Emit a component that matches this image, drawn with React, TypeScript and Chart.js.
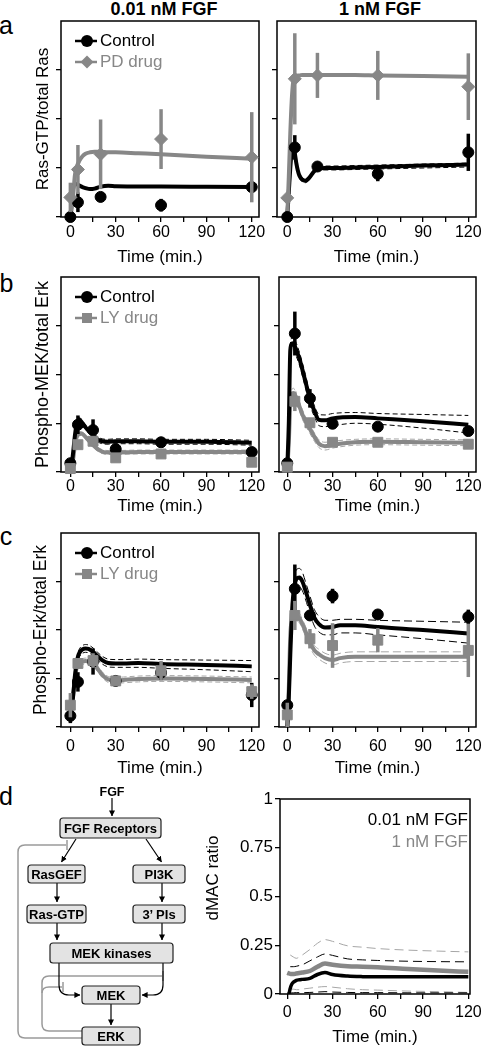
import React, { useEffect, useRef } from 'react';
import { Chart, registerables } from 'chart.js';

Chart.register(...registerables);

const FONT = "Arial, 'Liberation Sans', Helvetica, sans-serif";
const BLACK = '#000000';
const GRAY = '#878787';
const LGRAY = '#a6a6a6';

// ---------- shared ticks ----------
const X_TICKS = [0, 15, 30, 45, 60, 75, 90, 105, 120];
const X_LABELS = [0, 30, 60, 90, 120];
const Y_TICKS_ABC = [0, 1, 2, 3];
const Y_TICKS_D = [0, 0.25, 0.5, 0.75, 1];

// ---------- panel a: Ras-GTP / total Ras ----------
const tA = [0, 5, 20, 60, 120];
const aL_ctrl = [0, 0.3, 0.41, 0.24, 0.61];
const aL_ctrlErr = [0.03, 0.2, 0.05, 0.13, 0.1];
const aL_pd = [0.4, 0.97, 1.28, 1.59, 1.22];
const aL_pdErr = [0.3, 0.5, 0.71, 0.61, 0.92];
const aR_ctrl = [0, 1.42, 1.03, 0.88, 1.32];
const aR_ctrlErr = [0.03, 0.25, 0.08, 0.15, 0.38];
const aR_pd = [0.39, 2.82, 2.89, 2.89, 2.66];
const aR_pdErr = [0, 0.93, 0.46, 0.5, 0.68];

const mAL = [0, 1, 2, 3, 4, 6, 8, 10, 13, 16, 20, 25, 30, 45, 60, 90, 120];
const aL_ctrlFit = [0, 0.35, 0.62, 0.68, 0.67, 0.64, 0.61, 0.59, 0.57, 0.58, 0.62, 0.64, 0.63, 0.62, 0.62, 0.615, 0.61];
const aL_pdFit = [0, 0.2, 0.5, 0.85, 1.0, 1.15, 1.24, 1.29, 1.32, 1.33, 1.33, 1.32, 1.32, 1.3, 1.28, 1.23, 1.19];

const mAR = [0, 1, 2, 3, 4, 5, 6, 7, 8, 10, 12, 14, 17, 20, 25, 30, 45, 60, 90, 120];
const aR_ctrlFit = [0, 0.5, 1.0, 1.35, 1.42, 1.3, 1.1, 0.95, 0.85, 0.76, 0.74, 0.78, 0.9, 0.99, 1.0, 1.0, 1.01, 1.02, 1.05, 1.07];
const aR_ctrlHi = [0, 0.55, 1.05, 1.4, 1.47, 1.36, 1.16, 1.0, 0.9, 0.8, 0.78, 0.82, 0.94, 1.03, 1.04, 1.04, 1.05, 1.06, 1.08, 1.1];
const aR_ctrlLo = [0, 0.45, 0.95, 1.3, 1.37, 1.24, 1.04, 0.9, 0.8, 0.72, 0.7, 0.74, 0.86, 0.95, 0.96, 0.96, 0.97, 0.98, 1.0, 1.02];
const aR_pdFit = [0, 0.8, 1.7, 2.4, 2.78, 2.86, 2.88, 2.89, 2.89, 2.9, 2.9, 2.9, 2.9, 2.9, 2.9, 2.9, 2.9, 2.89, 2.88, 2.86];

// ---------- panel b: Phospho-MEK / total Erk ----------
const tB = [0, 5, 15, 30, 60, 120];
const bL_ctrl = [0.18, 0.97, 0.86, 0.47, 0.61, 0.41];
const bL_ctrlErr = [0.03, 0.19, 0.22, 0.08, 0.1, 0.06];
const bL_ly = [0.07, 0.56, 0.63, 0.29, 0.37, 0.2];
const bL_lyErr = [0.02, 0.06, 0.1, 0.05, 0.04, 0.05];
const bR_ctrl = [0.18, 2.84, 1.51, 0.99, 0.93, 0.84];
const bR_ctrlErr = [0.03, 0.45, 0.19, 0.06, 0.06, 0.06];
const bR_ly = [0.1, 1.45, 1.01, 0.61, 0.61, 0.57];
const bR_lyErr = [0.03, 0.2, 0.1, 0.06, 0.05, 0.06];

const mB = [0, 1, 2, 3, 4, 5, 6, 8, 10, 12, 15, 18, 21, 25, 30, 45, 60, 90, 120];
const bL_ctrlFit = [0.12, 0.2, 0.45, 0.75, 0.95, 1.05, 1.07, 1.0, 0.92, 0.85, 0.75, 0.67, 0.63, 0.62, 0.63, 0.63, 0.62, 0.62, 0.6];
const bL_ctrlHi = [0.12, 0.22, 0.5, 0.8, 1.0, 1.1, 1.12, 1.05, 0.97, 0.9, 0.8, 0.72, 0.68, 0.67, 0.68, 0.68, 0.67, 0.67, 0.65];
const bL_ctrlLo = [0.12, 0.18, 0.4, 0.7, 0.9, 1.0, 1.02, 0.95, 0.87, 0.8, 0.7, 0.62, 0.58, 0.57, 0.58, 0.58, 0.57, 0.57, 0.55];
const bL_lyFit = [0.06, 0.12, 0.3, 0.55, 0.7, 0.76, 0.79, 0.78, 0.72, 0.65, 0.55, 0.47, 0.42, 0.4, 0.4, 0.41, 0.41, 0.41, 0.41];
const bL_lyHi = [0.06, 0.14, 0.33, 0.59, 0.74, 0.8, 0.83, 0.82, 0.76, 0.69, 0.59, 0.51, 0.46, 0.44, 0.44, 0.45, 0.45, 0.45, 0.45];
const bL_lyLo = [0.06, 0.1, 0.27, 0.51, 0.66, 0.72, 0.75, 0.74, 0.68, 0.61, 0.51, 0.43, 0.38, 0.36, 0.36, 0.37, 0.37, 0.37, 0.37];
const bR_ctrlFit = [0.1, 1.0, 2.5, 2.63, 2.64, 2.58, 2.5, 2.33, 2.1, 1.86, 1.5, 1.25, 1.07, 1.06, 1.1, 1.13, 1.1, 1.04, 0.97];
const bR_ctrlHi = [0.1, 1.1, 2.6, 2.75, 2.78, 2.72, 2.64, 2.46, 2.24, 2.0, 1.62, 1.36, 1.18, 1.17, 1.2, 1.22, 1.2, 1.18, 1.16];
const bR_ctrlLo = [0.1, 0.9, 2.4, 2.52, 2.52, 2.45, 2.37, 2.2, 1.97, 1.73, 1.38, 1.13, 0.95, 0.93, 0.95, 1.0, 0.98, 0.9, 0.8];
const bR_lyFit = [0.05, 0.6, 1.4, 1.6, 1.62, 1.58, 1.5, 1.35, 1.18, 1.05, 0.88, 0.72, 0.58, 0.53, 0.56, 0.61, 0.62, 0.61, 0.6];
const bR_lyHi = [0.05, 0.66, 1.48, 1.68, 1.72, 1.68, 1.6, 1.45, 1.28, 1.14, 0.97, 0.8, 0.66, 0.61, 0.63, 0.67, 0.68, 0.67, 0.66];
const bR_lyLo = [0.05, 0.54, 1.32, 1.52, 1.52, 1.48, 1.4, 1.25, 1.08, 0.96, 0.79, 0.63, 0.5, 0.45, 0.49, 0.55, 0.56, 0.55, 0.54];

// ---------- panel c: Phospho-Erk / total Erk ----------
const tC = [0, 5, 15, 30, 60, 120];
const cL_ctrl = [0.23, 0.93, 1.35, 0.95, 1.12, 0.66];
const cL_ctrlErr = [0.15, 0.2, 0.27, 0.1, 0.15, 0.25];
const cL_ly = [0.45, 1.31, 1.37, 0.95, 1.16, 0.73];
const cL_lyErr = [0.25, 0.1, 0.15, 0.1, 0.2, 0.15];
const cR_ctrl = [0.45, 2.85, 2.3, 2.7, 2.32, 2.27];
const cR_ctrlErr = [0.1, 0.5, 0.1, 0.15, 0.08, 0.15];
const cR_ly = [0.25, 2.3, 1.82, 1.68, 1.79, 1.58];
const cR_lyErr = [0.25, 0.3, 0.2, 0.46, 0.25, 0.55];

const mC = [0, 1, 2, 3, 4, 5, 6, 8, 10, 12, 15, 18, 21, 25, 30, 35, 45, 60, 90, 120];
const cL_ctrlFit = [0.25, 0.4, 0.7, 1.05, 1.3, 1.45, 1.53, 1.6, 1.62, 1.61, 1.55, 1.46, 1.38, 1.32, 1.31, 1.31, 1.32, 1.3, 1.28, 1.25];
const cL_ctrlHi = [0.25, 0.45, 0.78, 1.13, 1.38, 1.53, 1.61, 1.68, 1.7, 1.69, 1.63, 1.54, 1.46, 1.4, 1.39, 1.39, 1.4, 1.39, 1.38, 1.37];
const cL_ctrlLo = [0.25, 0.35, 0.62, 0.97, 1.22, 1.37, 1.45, 1.52, 1.54, 1.53, 1.47, 1.38, 1.3, 1.24, 1.23, 1.23, 1.23, 1.21, 1.18, 1.14];
const cL_lyFit = [0.3, 0.45, 0.7, 1.0, 1.2, 1.28, 1.32, 1.35, 1.36, 1.35, 1.32, 1.2, 1.08, 0.98, 0.96, 0.97, 0.99, 1.0, 0.99, 0.97];
const cL_lyHi = [0.3, 0.5, 0.76, 1.06, 1.26, 1.34, 1.38, 1.41, 1.42, 1.41, 1.38, 1.26, 1.14, 1.04, 1.02, 1.03, 1.05, 1.06, 1.05, 1.03];
const cL_lyLo = [0.3, 0.4, 0.64, 0.94, 1.14, 1.22, 1.26, 1.29, 1.3, 1.29, 1.26, 1.14, 1.02, 0.92, 0.9, 0.91, 0.93, 0.94, 0.93, 0.91];
const cR_ctrlFit = [0.0, 0.6, 1.5, 2.3, 2.75, 2.95, 3.05, 3.08, 3.0, 2.82, 2.52, 2.25, 2.12, 2.05, 2.06, 2.1, 2.1, 2.06, 2.0, 1.93];
const cR_ctrlHi = [0.0, 0.7, 1.65, 2.45, 2.92, 3.13, 3.24, 3.27, 3.19, 3.0, 2.7, 2.42, 2.28, 2.2, 2.2, 2.22, 2.22, 2.2, 2.18, 2.16];
const cR_ctrlLo = [0.0, 0.5, 1.35, 2.15, 2.58, 2.77, 2.86, 2.89, 2.81, 2.64, 2.34, 2.08, 1.96, 1.9, 1.9, 1.94, 1.94, 1.9, 1.82, 1.73];
const cR_lyFit = [0.0, 0.8, 1.9, 2.2, 2.27, 2.29, 2.29, 2.25, 2.12, 1.98, 1.75, 1.58, 1.5, 1.42, 1.38, 1.42, 1.45, 1.45, 1.45, 1.45];
const cR_lyHi = [0.0, 0.88, 2.0, 2.3, 2.37, 2.39, 2.39, 2.35, 2.22, 2.08, 1.85, 1.68, 1.6, 1.52, 1.48, 1.52, 1.55, 1.55, 1.55, 1.55];
const cR_lyLo = [0.0, 0.72, 1.8, 2.1, 2.17, 2.19, 2.19, 2.15, 2.02, 1.88, 1.65, 1.48, 1.4, 1.32, 1.28, 1.32, 1.35, 1.35, 1.35, 1.35];

// ---------- panel d: dMAC ratio ----------
const mD = [0, 1, 2, 3, 4, 5, 6, 8, 10, 15, 20, 25, 30, 40, 50, 60, 80, 100, 120];
const dLowFit = [0, 0, 0.03, 0.05, 0.06, 0.065, 0.07, 0.073, 0.075, 0.08, 0.1, 0.11, 0.1, 0.092, 0.089, 0.088, 0.088, 0.088, 0.088];
const dHighFit = [0.109, 0.106, 0.103, 0.102, 0.102, 0.103, 0.105, 0.108, 0.11, 0.118, 0.14, 0.156, 0.15, 0.142, 0.14, 0.137, 0.128, 0.12, 0.114];
const mDb = [2, 4, 6, 8, 10, 15, 20, 25, 30, 40, 50, 60, 80, 100, 120];
const dLowHi = [0.14, 0.14, 0.142, 0.146, 0.15, 0.17, 0.19, 0.205, 0.198, 0.18, 0.175, 0.172, 0.168, 0.166, 0.165];
const dLowLo = [0.005, 0.006, 0.007, 0.007, 0.007, 0.008, 0.01, 0.012, 0.01, 0.008, 0.007, 0.007, 0.006, 0.006, 0.006];
const dHighHi = [0.2, 0.19, 0.183, 0.19, 0.2, 0.228, 0.26, 0.279, 0.27, 0.247, 0.24, 0.233, 0.225, 0.22, 0.216];
const dHighLo = [0.025, 0.025, 0.022, 0.022, 0.025, 0.03, 0.035, 0.038, 0.035, 0.027, 0.022, 0.02, 0.015, 0.012, 0.008];

// ---------- diagram nodes ----------
const NODES = [
  { label: 'FGF Receptors', x: 60, y: 818, w: 101, h: 20 },
  { label: 'RasGEF', x: 28, y: 865, w: 57, h: 18 },
  { label: 'PI3K', x: 133, y: 865, w: 52, h: 18 },
  { label: 'Ras-GTP', x: 27, y: 905, w: 59, h: 18 },
  { label: '3\u2019 PIs', x: 133, y: 905, w: 52, h: 18 },
  { label: 'MEK kinases', x: 50, y: 943, w: 123, h: 20 },
  { label: 'MEK', x: 82, y: 986, w: 58, h: 18 },
  { label: 'ERK', x: 82, y: 1027, w: 58, h: 18 },
];
const ARROWS = [
  'M112 798 V816',
  'M76 839 L61.5 862',
  'M146 839 L161.5 862',
  'M57 883 V902',
  'M162 883 V902',
  'M57 923 V940',
  'M162 923 V940',
  'M59 963 V985 Q59 995 69 995 H80',
  'M163 963 V985 Q163 995 153 995 H142',
  'M111 1004 V1025',
];
const FEEDBACK = [
  'M82 1038 H25 Q18 1038 18 1031 V852 Q18 845 25 845 H66',
  'M82 1031 H49 Q42 1031 42 1024 V983 Q42 976 49 976 H162',
  'M42 993 Q42 987 49 987 H62',
];
const TEES = ['M67 840 V850', 'M163 971 V981', 'M63 982 V992'];

// ---------- helpers ----------
const pts = (t: number[], v: number[]) => t.map((x, i) => ({ x, y: v[i] }));

function pointsDS(t: number[], v: number[], err: number[], color: string, style: string, radius: number, order: number) {
  return {
    type: 'line', data: pts(t, v), showLine: false, errors: err,
    pointStyle: style, pointRadius: radius, pointBackgroundColor: color, pointBorderColor: color,
    pointBorderWidth: 1, borderColor: color, backgroundColor: color, clip: false, order,
  };
}
function curveDS(t: number[], v: number[], color: string, width = 4) {
  return {
    type: 'line', data: pts(t, v), borderColor: color, borderWidth: width, pointRadius: 0,
    cubicInterpolationMode: 'monotone', fill: false, order: 2,
  };
}
function boundDS(t: number[], v: number[], color: string, dash = [5, 3]) {
  return {
    type: 'line', data: pts(t, v), borderColor: color, borderWidth: 1, borderDash: dash, pointRadius: 0,
    cubicInterpolationMode: 'monotone', fill: false, order: 3,
  };
}

function drawMarker(ctx: CanvasRenderingContext2D, style: string, x: number, y: number, color: string) {
  ctx.fillStyle = color;
  ctx.beginPath();
  if (style === 'circle') ctx.arc(x, y, 6, 0, Math.PI * 2);
  else if (style === 'diamond') {
    ctx.moveTo(x - 6.5, y); ctx.lineTo(x, y - 6.5); ctx.lineTo(x + 6.5, y); ctx.lineTo(x, y + 6.5); ctx.closePath();
  } else ctx.rect(x - 5, y - 5, 10, 10);
  ctx.fill();
}

const boxPlugin = {
  id: 'boxBorder',
  beforeDatasetsDraw(chart: any) {
    const { ctx, chartArea: ca } = chart;
    ctx.save();
    ctx.strokeStyle = '#000';
    ctx.lineWidth = 1.5;
    ctx.strokeRect(ca.left, ca.top, ca.right - ca.left, ca.bottom - ca.top);
    ctx.restore();
  },
};

const errorBarPlugin = {
  id: 'errorBars',
  beforeDatasetDraw(chart: any, args: any) {
    const ds = chart.data.datasets[args.index];
    if (!ds.errors) return;
    const { ctx, chartArea: ca } = chart;
    const xs = chart.scales.x;
    const ys = chart.scales.y;
    ctx.save();
    ctx.beginPath();
    ctx.rect(ca.left, ca.top, ca.right - ca.left, ca.bottom - ca.top);
    ctx.clip();
    ctx.strokeStyle = ds.borderColor;
    ctx.lineWidth = 3.5;
    ds.data.forEach((p: any, i: number) => {
      const e = ds.errors[i];
      if (!e) return;
      const px = xs.getPixelForValue(p.x);
      ctx.beginPath();
      ctx.moveTo(px, ys.getPixelForValue(p.y - e));
      ctx.lineTo(px, ys.getPixelForValue(p.y + e));
      ctx.stroke();
    });
    ctx.restore();
  },
};

function makeLegendPlugin(items: any[], align: string) {
  return {
    id: 'figLegend',
    afterDatasetsDraw(chart: any) {
      const { ctx, chartArea: ca } = chart;
      ctx.save();
      ctx.font = `17px ${FONT}`;
      ctx.textBaseline = 'middle';
      items.forEach((it, i) => {
        if (align === 'left') {
          const y = ca.top + [20, 41][i];
          ctx.strokeStyle = it.color;
          ctx.lineWidth = 2.5;
          ctx.beginPath(); ctx.moveTo(ca.left + 14, y); ctx.lineTo(ca.left + 36, y); ctx.stroke();
          drawMarker(ctx, it.style, ca.left + 26, y, it.color);
          ctx.fillStyle = it.color;
          ctx.textAlign = 'left';
          ctx.fillText(it.text, ca.left + 39, y);
        } else {
          const y = ca.top + [21, 43][i];
          ctx.fillStyle = it.color;
          ctx.textAlign = 'right';
          ctx.fillText(it.text, ca.right - 2, y);
        }
      });
      ctx.restore();
    },
  };
}

// rotated axis title placed at a given page position (used for the dMAC panel)
function makeSideTitlePlugin(text: string, px: number, py: number, cx: number, cy: number) {
  return {
    id: 'sideTitle',
    afterDraw(chart: any) {
      const { ctx } = chart;
      ctx.save();
      ctx.translate(px - cx, py - cy);
      ctx.rotate(-Math.PI / 2);
      ctx.font = `17px ${FONT}`;
      ctx.fillStyle = '#000';
      ctx.textAlign = 'center';
      ctx.textBaseline = 'middle';
      ctx.fillText(text, 0, 0);
      ctx.restore();
    },
  };
}

interface Spec {
  box: [number, number, number, number];
  cx: number; cy: number; cw: number;
  xMin: number; xMax: number; yMax: number;
  yTicks: number[]; yLabels: boolean;
  yTitle?: string; yTitleSize?: number; yTitleX?: number;
  sideTitle?: { text: string; x: number; y: number };
  labelOff: number; titleOff: number;
  datasets: any[];
  legend?: any[]; legendAlign?: string;
}

const canvasHeight = (s: Spec) => s.box[3] - s.cy + s.titleOff + 10.2;

function buildConfig(s: Spec): any {
  const [x0, y0, x1, y1] = s.box;
  const h = canvasHeight(s);
  const gridOpts = { display: true, drawOnChartArea: false, drawTicks: true, tickLength: 5, color: '#000', lineWidth: 1.3 };
  const plugins: any[] = [boxPlugin, errorBarPlugin];
  if (s.legend) plugins.push(makeLegendPlugin(s.legend, s.legendAlign || 'left'));
  if (s.sideTitle) plugins.push(makeSideTitlePlugin(s.sideTitle.text, s.sideTitle.x, s.sideTitle.y, s.cx, s.cy));
  return {
    type: 'line',
    data: { datasets: s.datasets },
    plugins,
    options: {
      animation: false,
      responsive: true,
      maintainAspectRatio: false,
      events: [],
      layout: { padding: { left: 0, top: y0 - s.cy, right: s.cx + s.cw - x1, bottom: 0 } },
      plugins: { legend: { display: false }, tooltip: { enabled: false }, title: { display: false } },
      scales: {
        x: {
          type: 'linear', min: s.xMin, max: s.xMax,
          afterFit: (sc: any) => { sc.height = h - (y1 - s.cy); },
          afterBuildTicks: (sc: any) => { sc.ticks = X_TICKS.map((v) => ({ value: v })); },
          grid: gridOpts,
          border: { display: false },
          ticks: {
            autoSkip: false, maxRotation: 0, minRotation: 0,
            padding: s.labelOff - 5 - 9.6,
            color: '#000', font: { family: FONT, size: 16 },
            callback: (v: any) => (X_LABELS.includes(Number(v)) ? String(v) : ''),
          },
          title: { display: true, text: 'Time (min.)', color: '#000', font: { family: FONT, size: 17 }, padding: { top: 0, bottom: 0 } },
        },
        y: {
          type: 'linear', min: 0, max: s.yMax,
          afterFit: (sc: any) => { sc.width = x0 - s.cx; },
          afterBuildTicks: (sc: any) => { sc.ticks = s.yTicks.map((v) => ({ value: v })); },
          grid: gridOpts,
          border: { display: false },
          ticks: {
            display: s.yLabels, padding: 2, color: '#000', font: { family: FONT, size: 17 },
            callback: (v: any) => String(v),
          },
          title: s.yTitle
            ? {
                display: true, text: s.yTitle, color: '#000',
                font: { family: FONT, size: s.yTitleSize || 17 },
                padding: { top: (s.yTitleX || 43) - ((s.yTitleSize || 17) * 1.2) / 2, bottom: 0 },
              }
            : { display: false },
        },
      },
    },
  };
}

function ChartBox({ spec }: { spec: Spec }) {
  const ref = useRef<HTMLCanvasElement | null>(null);
  useEffect(() => {
    const chart = new Chart(ref.current as HTMLCanvasElement, buildConfig(spec));
    return () => chart.destroy();
  }, []);
  return (
    <div style={{ position: 'absolute', left: spec.cx, top: spec.cy, width: spec.cw, height: canvasHeight(spec) }}>
      <canvas ref={ref} />
    </div>
  );
}

const legPD = [
  { text: 'Control', color: BLACK, style: 'circle' },
  { text: 'PD drug', color: GRAY, style: 'diamond' },
];
const legLY = [
  { text: 'Control', color: BLACK, style: 'circle' },
  { text: 'LY drug', color: GRAY, style: 'square' },
];

const LEFT = { cx: 0, cw: 275 };
const RIGHT = { cx: 268, cw: 230 };

const SPECS: Spec[] = [
  {
    ...LEFT, cy: 6, box: [61, 21, 259, 217], xMin: -6.2, xMax: 124.8, yMax: 4, yTicks: Y_TICKS_ABC, yLabels: false,
    yTitle: 'Ras-GTP/total Ras', yTitleSize: 17, yTitleX: 43, labelOff: 16, titleOff: 40,
    legend: legPD,
    datasets: [
      pointsDS(tA, aL_pd, aL_pdErr, GRAY, 'rectRot', 6.5, 0),
      pointsDS(tA, aL_ctrl, aL_ctrlErr, BLACK, 'circle', 5.5, 1),
      curveDS(mAL, aL_pdFit, GRAY),
      curveDS(mAL, aL_ctrlFit, BLACK),
    ],
  },
  {
    ...RIGHT, cy: 6, box: [277, 21, 476, 217], xMin: -6.8, xMax: 125.1, yMax: 4, yTicks: Y_TICKS_ABC, yLabels: false,
    labelOff: 16, titleOff: 40,
    datasets: [
      pointsDS(tA, aR_pd, aR_pdErr, GRAY, 'rectRot', 6.5, 0),
      pointsDS(tA, aR_ctrl, aR_ctrlErr, BLACK, 'circle', 5.5, 1),
      curveDS(mAR, aR_pdFit, GRAY),
      curveDS(mAR, aR_ctrlFit, BLACK),
      boundDS(mAR, aR_ctrlHi, BLACK),
      boundDS(mAR, aR_ctrlLo, BLACK),
    ],
  },
  {
    ...LEFT, cy: 262, box: [61, 277, 259, 472], xMin: -6.2, xMax: 124.8, yMax: 4, yTicks: Y_TICKS_ABC, yLabels: false,
    yTitle: 'Phospho-MEK/total Erk', yTitleSize: 18, yTitleX: 43, labelOff: 15, titleOff: 34,
    legend: legLY,
    datasets: [
      pointsDS(tB, bL_ly, bL_lyErr, GRAY, 'rect', 7, 0),
      pointsDS(tB, bL_ctrl, bL_ctrlErr, BLACK, 'circle', 5.5, 1),
      curveDS(mB, bL_ctrlFit, BLACK),
      curveDS(mB, bL_lyFit, GRAY),
      boundDS(mB, bL_ctrlHi, BLACK),
      boundDS(mB, bL_ctrlLo, BLACK),
      boundDS(mB, bL_lyHi, LGRAY),
      boundDS(mB, bL_lyLo, LGRAY),
    ],
  },
  {
    ...RIGHT, cy: 262, box: [279, 277, 476, 472], xMin: -5.5, xMax: 125.1, yMax: 4, yTicks: Y_TICKS_ABC, yLabels: false,
    labelOff: 15, titleOff: 34,
    datasets: [
      pointsDS(tB, bR_ly, bR_lyErr, GRAY, 'rect', 7, 0),
      pointsDS(tB, bR_ctrl, bR_ctrlErr, BLACK, 'circle', 5.5, 1),
      curveDS(mB, bR_ctrlFit, BLACK),
      curveDS(mB, bR_lyFit, GRAY),
      boundDS(mB, bR_ctrlHi, BLACK),
      boundDS(mB, bR_ctrlLo, BLACK),
      boundDS(mB, bR_lyHi, LGRAY),
      boundDS(mB, bR_lyLo, LGRAY),
    ],
  },
  {
    ...LEFT, cy: 518, box: [61, 533, 259, 727], xMin: -6.2, xMax: 124.8, yMax: 4, yTicks: Y_TICKS_ABC, yLabels: false,
    yTitle: 'Phospho-Erk/total Erk', yTitleSize: 17.5, yTitleX: 41, labelOff: 20, titleOff: 41,
    legend: legLY,
    datasets: [
      pointsDS(tC, cL_ly, cL_lyErr, GRAY, 'rect', 7, 0),
      pointsDS(tC, cL_ctrl, cL_ctrlErr, BLACK, 'circle', 5.5, 1),
      curveDS(mC, cL_ctrlFit, BLACK),
      curveDS(mC, cL_lyFit, GRAY),
      boundDS(mC, cL_ctrlHi, BLACK),
      boundDS(mC, cL_ctrlLo, BLACK),
      boundDS(mC, cL_lyHi, LGRAY),
      boundDS(mC, cL_lyLo, LGRAY),
    ],
  },
  {
    ...RIGHT, cy: 518, box: [279, 533, 476, 727], xMin: -5.5, xMax: 125.1, yMax: 4, yTicks: Y_TICKS_ABC, yLabels: false,
    labelOff: 20, titleOff: 41,
    datasets: [
      pointsDS(tC, cR_ly, cR_lyErr, GRAY, 'rect', 7, 0),
      pointsDS(tC, cR_ctrl, cR_ctrlErr, BLACK, 'circle', 5.5, 1),
      curveDS(mC, cR_ctrlFit, BLACK),
      curveDS(mC, cR_lyFit, GRAY),
      boundDS(mC, cR_ctrlHi, BLACK, [8, 4]),
      boundDS(mC, cR_ctrlLo, BLACK, [8, 4]),
      boundDS(mC, cR_lyHi, LGRAY, [8, 4]),
      boundDS(mC, cR_lyLo, LGRAY, [8, 4]),
    ],
  },
  {
    cx: 200, cw: 298, cy: 779, box: [280, 799, 470, 994], xMin: -4.8, xMax: 121.1, yMax: 1, yTicks: Y_TICKS_D, yLabels: true,
    labelOff: 19, titleOff: 43,
    sideTitle: { text: 'dMAC ratio', x: 213, y: 878 },
    legend: [
      { text: '0.01 nM FGF', color: BLACK },
      { text: '1 nM FGF', color: GRAY },
    ],
    legendAlign: 'right',
    datasets: [
      curveDS(mD, dLowFit, BLACK, 3.5),
      curveDS(mD, dHighFit, GRAY, 4.5),
      boundDS(mDb, dLowHi, BLACK, [9, 5]),
      boundDS(mDb, dLowLo, BLACK, [9, 5]),
      boundDS(mDb, dHighHi, LGRAY, [9, 5]),
      boundDS(mDb, dHighLo, LGRAY, [9, 5]),
    ],
  },
];

function Txt(props: { x: number; y: number; size: number; bold?: boolean; color?: string; children: any }) {
  const { x, y, size, bold, color, children } = props;
  return (
    <div
      style={{
        position: 'absolute', left: x, top: y,
        transform: 'translate(-50%, -50%)',
        fontSize: size, fontWeight: bold ? 'bold' : 'normal', color: color || '#000',
        whiteSpace: 'nowrap', lineHeight: 1, fontFamily: FONT,
      }}
    >
      {children}
    </div>
  );
}

function Diagram() {
  return (
    <svg width={200} height={1050} viewBox="0 0 200 1050" style={{ position: 'absolute', left: 0, top: 0 }}>
      <defs>
        <marker id="arrowHead" viewBox="0 0 8 8" refX="7.5" refY="4" markerWidth="6" markerHeight="6" orient="auto" markerUnits="userSpaceOnUse">
          <path d="M0,0 L8,4 L0,8 z" fill="#000" />
        </marker>
      </defs>
      <text x={112} y={792} textAnchor="middle" dominantBaseline="central" fontFamily={FONT} fontWeight="bold" fontSize={12.5}>FGF</text>
      {FEEDBACK.map((d, i) => (
        <path key={'f' + i} d={d} fill="none" stroke="#9a9a9a" strokeWidth={1.5} />
      ))}
      {TEES.map((d, i) => (
        <path key={'t' + i} d={d} fill="none" stroke="#9a9a9a" strokeWidth={1.5} />
      ))}
      {ARROWS.map((d, i) => (
        <path key={'a' + i} d={d} fill="none" stroke="#000" strokeWidth={1.2} markerEnd="url(#arrowHead)" />
      ))}
      {NODES.map((n, i) => (
        <g key={'n' + i}>
          <rect x={n.x} y={n.y} width={n.w} height={n.h} rx={3} ry={3} fill="#e3e3e3" stroke="#222" strokeWidth={1.2} />
          <text x={n.x + n.w / 2} y={n.y + n.h / 2 + 0.5} textAnchor="middle" dominantBaseline="central" fontFamily={FONT} fontWeight="bold" fontSize={13}>
            {n.label}
          </text>
        </g>
      ))}
    </svg>
  );
}

export default function App() {
  return (
    <div style={{ position: 'absolute', left: 0, top: 0, width: 482, height: 1050, overflow: 'hidden', background: '#fff', fontFamily: FONT }}>
      <Txt x={164} y={8.5} size={18} bold>0.01 nM FGF</Txt>
      <Txt x={380} y={8.5} size={18} bold>1 nM FGF</Txt>
      <Txt x={6} y={24.5} size={25}>a</Txt>
      <Txt x={6.5} y={283} size={25}>b</Txt>
      <Txt x={6} y={535.5} size={25}>c</Txt>
      <Txt x={6} y={795.5} size={25}>d</Txt>
      {SPECS.map((s, i) => (
        <ChartBox key={i} spec={s} />
      ))}
      <Diagram />
    </div>
  );
}
